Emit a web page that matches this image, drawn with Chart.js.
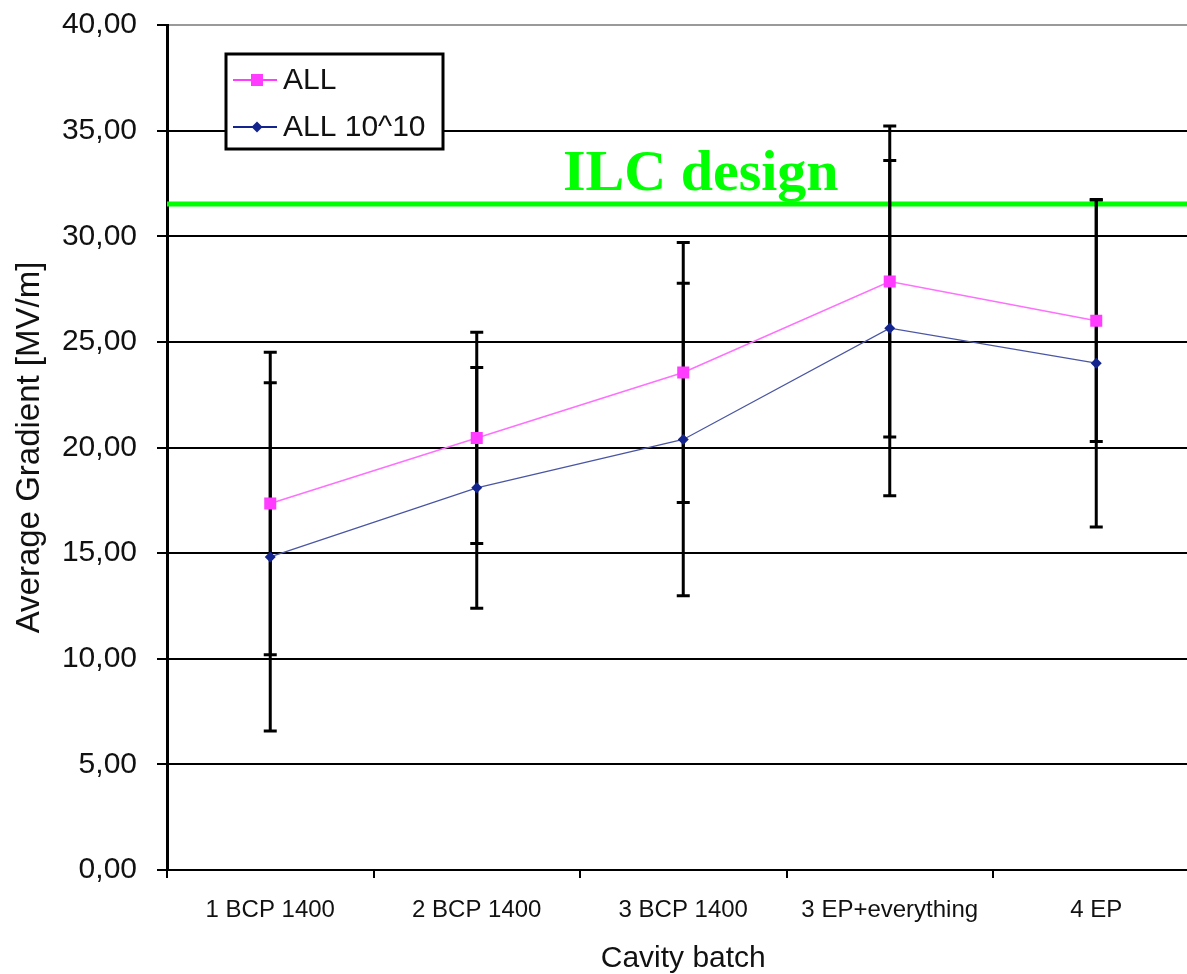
<!DOCTYPE html>
<html><head><meta charset="utf-8">
<script src="https://cdn.jsdelivr.net/npm/chart.js@4"></script>
<style>
html,body{margin:0;padding:0;background:#fff;overflow:hidden;width:1187px;height:974px}
#wrap{position:absolute;left:0;top:0;width:1208px;height:974px}
</style>
</head><body><div id="wrap"><canvas id="c" width="1208" height="974"></canvas></div>
<script>
// ---- data ----
const categories = ['1 BCP 1400', '2 BCP 1400', '3 BCP 1400', '3 EP+everything', '4 EP'];
const allValues = [17.35, 20.45, 23.55, 27.86, 26.0];
const allErrors = [7.16, 5.0, 6.15, 7.36, 5.72];
const all1010Values = [14.82, 18.09, 20.38, 25.65, 23.99];
const all1010Errors = [8.24, 5.7, 7.4, 7.93, 7.75];
const yTickValues = [0, 5, 10, 15, 20, 25, 30, 35, 40];
const ilcDesignValue = 31.53;
const ilcLabel = 'ILC design';
const seriesNames = ['ALL', 'ALL 10^10'];
const errorSets = [allErrors, all1010Errors];

const PINK = '#ff3cff';
const NAVY = '#14248f';

const overlay = {
  id: 'overlay',
  beforeDatasetsDraw(chart) {
    const ctx = chart.ctx, x = chart.scales.x, y = chart.scales.y, a = chart.chartArea;
    // ILC design reference line
    const yl = y.getPixelForValue(ilcDesignValue);
    ctx.save();
    ctx.strokeStyle = '#00ff00';
    ctx.lineWidth = 5;
    ctx.beginPath(); ctx.moveTo(a.left, yl); ctx.lineTo(chart.width, yl); ctx.stroke();
    ctx.fillStyle = '#00ff00';
    ctx.font = 'bold 58px "Liberation Serif", "Times New Roman", serif';
    ctx.textBaseline = 'alphabetic';
    ctx.textAlign = 'left';
    ctx.fillText(ilcLabel, 563, yl - 14);
    // error bars
    ctx.strokeStyle = '#000';
    ctx.lineWidth = 3;
    chart.data.datasets.forEach((ds, i) => {
      const errs = errorSets[i];
      ds.data.forEach((v, j) => {
        const px = x.getPixelForValue(j);
        const top = y.getPixelForValue(v + errs[j]);
        const bot = y.getPixelForValue(v - errs[j]);
        ctx.beginPath();
        ctx.moveTo(px, top); ctx.lineTo(px, bot);
        ctx.moveTo(px - 6.5, top); ctx.lineTo(px + 6.5, top);
        ctx.moveTo(px - 6.5, bot); ctx.lineTo(px + 6.5, bot);
        ctx.stroke();
      });
    });
    ctx.restore();
  },
  afterDraw(chart) {
    const ctx = chart.ctx;
    ctx.save();
    // legend box
    ctx.fillStyle = '#fff';
    ctx.fillRect(226, 54, 217, 95);
    ctx.strokeStyle = '#000';
    ctx.lineWidth = 3;
    ctx.strokeRect(226, 54, 217, 95);
    const rows = [80, 127];
    chart.data.datasets.forEach((ds, i) => {
      const yy = rows[i];
      ctx.strokeStyle = ds.pointBackgroundColor;
      ctx.lineWidth = 2;
      ctx.beginPath(); ctx.moveTo(233, yy); ctx.lineTo(277, yy); ctx.stroke();
      ctx.fillStyle = ds.pointBackgroundColor;
      if (ds.pointStyle === 'rect') {
        ctx.fillRect(257 - 6, yy - 6, 12, 12);
      } else {
        ctx.beginPath();
        ctx.moveTo(257, yy - 5.5); ctx.lineTo(262.5, yy); ctx.lineTo(257, yy + 5.5); ctx.lineTo(251.5, yy);
        ctx.closePath(); ctx.fill();
      }
      ctx.fillStyle = '#111';
      ctx.font = '30px "Liberation Sans", Arial, sans-serif';
      ctx.textBaseline = 'middle';
      ctx.textAlign = 'left';
      ctx.fillText(ds.label, 283, yy + 1);
    });
    ctx.restore();
  }
};

new Chart(document.getElementById('c'), {
  type: 'line',
  data: {
    labels: categories,
    datasets: [
      {
        label: seriesNames[0], data: allValues,
        borderColor: '#ff70ff', borderWidth: 1.5,
        pointStyle: 'rect', pointRadius: 8.5, pointBackgroundColor: PINK, pointBorderColor: PINK, pointBorderWidth: 0,
        tension: 0
      },
      {
        label: seriesNames[1], data: all1010Values,
        borderColor: '#4a56a4', borderWidth: 1.3,
        pointStyle: 'rectRot', pointRadius: 5.5, pointBackgroundColor: NAVY, pointBorderColor: NAVY, pointBorderWidth: 0,
        tension: 0
      }
    ]
  },
  options: {
    responsive: false,
    animation: false,
    devicePixelRatio: 1,
    layout: { padding: { top: 25, right: 0, left: 0, bottom: 0 } },
    plugins: { legend: { display: false }, tooltip: { enabled: false } },
    scales: {
      x: {
        type: 'category',
        offset: true,
        grid: { offset: true, drawOnChartArea: false, drawTicks: true, tickLength: 8, color: '#000', lineWidth: 2 },
        border: { display: true, color: '#000', width: 2 },
        ticks: { color: '#111', font: { family: '"Liberation Sans", Arial, sans-serif', size: 24 }, padding: 18, maxRotation: 0, autoSkip: false },
        title: { display: true, text: 'Cavity batch', color: '#111', font: { family: '"Liberation Sans", Arial, sans-serif', size: 30, lineHeight: 1 }, padding: { top: 0, bottom: 0 } },
        afterFit(s) { s.height = 104; s.paddingLeft = 0; s.paddingRight = 0; }
      },
      y: {
        min: 0, max: 40,
        afterBuildTicks(s) { s.ticks = yTickValues.map(v => ({ value: v })); },
        grid: {
          color: c => (c.tick && c.tick.value === 40) ? '#9a9a9a' : '#000',
          tickColor: '#000', lineWidth: 2, tickLength: 10
        },
        border: { display: true, color: '#000', width: 3 },
        ticks: { color: '#111', font: { family: '"Liberation Sans", Arial, sans-serif', size: 30 }, padding: 20,
          callback: v => Number(v).toFixed(2).replace('.', ',') },
        title: { display: true, text: 'Average Gradient [MV/m]', color: '#111', font: { family: '"Liberation Sans", Arial, sans-serif', size: 33, lineHeight: 1 }, padding: { top: 13, bottom: 0 } },
        afterFit(s) { s.width = 167; s.paddingTop = 0; s.paddingBottom = 0; }
      }
    }
  },
  plugins: [overlay]
});
</script>
</body></html>
